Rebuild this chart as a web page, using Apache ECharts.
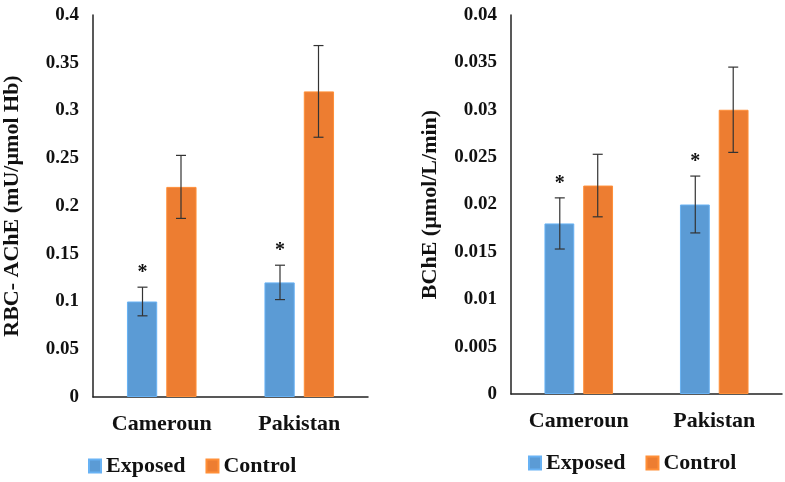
<!DOCTYPE html>
<html>
<head>
<meta charset="utf-8">
<script src="https://cdn.jsdelivr.net/npm/echarts@6/dist/echarts.min.js"></script>
<style>
html,body{margin:0;padding:0;background:#fff;}
#chart{width:785px;height:482px;}
</style>
</head>
<body>
<div id="chart"></div>
<script>
var categories=['Cameroun','Pakistan'];
// left panel: RBC-AChE
var acheExposed=[0.10,0.12];
var acheControl=[0.22,0.32];
var acheExposedErr=[0.015,0.018];
var acheControlErr=[0.033,0.048];
// right panel: BChE
var bcheExposed=[0.018,0.020];
var bcheControl=[0.022,0.030];
var bcheExposedErr=[0.0027,0.003];
var bcheControlErr=[0.0033,0.0045];
var exposedStar=['*','*'];

var blue='#5b9bd5',orange='#ed7d31';
var font='Liberation Serif';

// error bar drawn with custom series, shifted onto its bar inside the group
function errSeries(axisIdx,vals,errs,shift,stars){
  return {
    type:'custom',
    xAxisIndex:axisIdx,yAxisIndex:axisIdx,
    z:10,silent:true,
    data:vals.map(function(v,i){return [i,v-errs[i],v+errs[i]];}),
    renderItem:function(params,api){
      var i=api.value(0);
      var lo=api.coord([i,api.value(1)]);
      var hi=api.coord([i,api.value(2)]);
      var bw=api.size([1,0])[0];
      var x=lo[0]+shift*bw;
      var cap=5;
      var st={stroke:'#333',lineWidth:1.2};
      var kids=[
        {type:'line',shape:{x1:x,y1:hi[1],x2:x,y2:lo[1]},style:st},
        {type:'line',shape:{x1:x-cap,y1:hi[1],x2:x+cap,y2:hi[1]},style:st},
        {type:'line',shape:{x1:x-cap,y1:lo[1],x2:x+cap,y2:lo[1]},style:st}
      ];
      if(stars){
        kids.push({type:'text',style:{text:stars[i],x:x,y:hi[1]-4,align:'center',verticalAlign:'bottom',
          font:'bold 20px "'+font+'"',fill:'#111'}});
      }
      return {type:'group',children:kids};
    }
  };
}

function barSeries(name,axisIdx,vals,color){
  return {
    name:name,type:'bar',xAxisIndex:axisIdx,yAxisIndex:axisIdx,
    data:vals,barWidth:'22%',barGap:'30%',
    itemStyle:{color:color,borderColor:echarts.color.lift(color,-0.15),borderWidth:1}
  };
}

var axisText={color:'#111',fontFamily:font,fontWeight:'bold'};

function xAx(idx){
  return {type:'category',gridIndex:idx,data:categories,
    axisLine:{lineStyle:{color:'#222',width:1.5}},axisTick:{show:false},
    axisLabel:Object.assign({fontSize:22,margin:16},axisText)};
}
function yAx(idx,max,interval,name,gap){
  return {type:'value',gridIndex:idx,min:0,max:max,interval:interval,
    name:name,nameLocation:'middle',nameGap:gap,
    nameTextStyle:Object.assign({fontSize:22},axisText),
    splitLine:{show:false},axisTick:{show:false},
    axisLine:{show:true,lineStyle:{color:'#222',width:1.5}},
    axisLabel:Object.assign({fontSize:19,margin:14},axisText)};
}

var chart=echarts.init(document.getElementById('chart'));
chart.setOption({
  animation:false,
  backgroundColor:'#fff',
  grid:[
    {left:93,top:15,width:275,height:382},
    {left:511,top:15,width:271,height:379}
  ],
  xAxis:[xAx(0),xAx(1)],
  yAxis:[
    yAx(0,0.4,0.05,'RBC- AChE (mU/µmol Hb)',70),
    yAx(1,0.04,0.005,'BChE (µmol/L/min)',70)
  ],
  legend:[
    {left:83,top:450,itemWidth:12,itemHeight:13,itemGap:20,icon:'rect',
      data:['Exposed','Control'],textStyle:Object.assign({fontSize:22},axisText)},
    {left:523,top:447,itemWidth:12,itemHeight:13,itemGap:20,icon:'rect',
      data:['Exposed','Control'],textStyle:Object.assign({fontSize:22},axisText)}
  ],
  series:[
    barSeries('Exposed',0,acheExposed,blue),
    barSeries('Control',0,acheControl,orange),
    barSeries('Exposed',1,bcheExposed,blue),
    barSeries('Control',1,bcheControl,orange),
    errSeries(0,acheExposed,acheExposedErr,-0.14,exposedStar),
    errSeries(0,acheControl,acheControlErr,0.14,null),
    errSeries(1,bcheExposed,bcheExposedErr,-0.14,exposedStar),
    errSeries(1,bcheControl,bcheControlErr,0.14,null)
  ]
});
</script>
</body>
</html>
